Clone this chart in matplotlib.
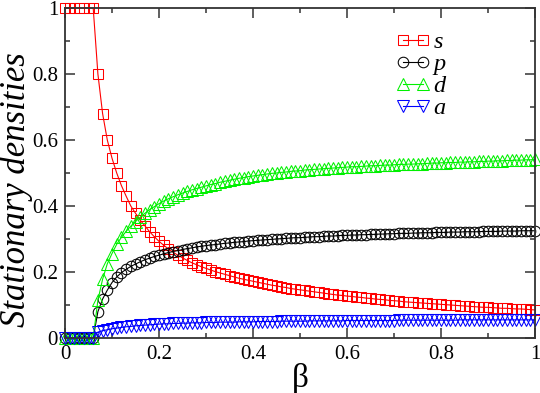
import numpy as np
import matplotlib
matplotlib.use('Agg')
import matplotlib.pyplot as plt

# beta grid (step 0.01)
beta = np.round(np.arange(101) * 0.01, 2)

s = [1.0, 1.0, 1.0, 1.0, 1.0, 1.0, 1.0,
     0.80, 0.68, 0.60,
     0.545, 0.50, 0.462, 0.43, 0.40, 0.378, 0.357, 0.34, 0.322, 0.307,
     0.293, 0.281, 0.27, 0.26, 0.251, 0.243, 0.235, 0.228, 0.222, 0.216,
     0.211, 0.206, 0.201, 0.197, 0.193, 0.189, 0.185, 0.181, 0.178, 0.175,
     0.172, 0.169, 0.166, 0.163, 0.160, 0.158, 0.155, 0.153, 0.150, 0.148,
     0.146, 0.144, 0.142, 0.140, 0.138, 0.136, 0.134, 0.132, 0.130, 0.129,
     0.127, 0.126, 0.124, 0.123, 0.121, 0.120, 0.118, 0.117, 0.116, 0.114,
     0.113, 0.112, 0.110, 0.109, 0.108, 0.107, 0.106, 0.105, 0.104, 0.103,
     0.102, 0.101, 0.100, 0.099, 0.098, 0.097, 0.096, 0.095, 0.094, 0.093,
     0.093, 0.092, 0.091, 0.090, 0.090, 0.089, 0.088, 0.088, 0.087, 0.086,
     0.085]

p = [0, 0, 0, 0, 0, 0, 0,
     0.08, 0.118, 0.145,
     0.168, 0.185, 0.198, 0.208, 0.217, 0.224, 0.231, 0.237, 0.242, 0.247,
     0.251, 0.255, 0.259, 0.262, 0.265, 0.268, 0.271, 0.273, 0.276, 0.278,
     0.280, 0.282, 0.283, 0.285, 0.287, 0.288, 0.290, 0.291, 0.292, 0.294,
     0.295, 0.296, 0.297, 0.298, 0.299, 0.300, 0.301, 0.302, 0.303, 0.304,
     0.304, 0.305, 0.306, 0.307, 0.307, 0.308, 0.309, 0.309, 0.310, 0.311,
     0.311, 0.312, 0.312, 0.313, 0.313, 0.314, 0.314, 0.315, 0.315, 0.316,
     0.316, 0.317, 0.317, 0.317, 0.318, 0.318, 0.319, 0.319, 0.319, 0.320,
     0.320, 0.320, 0.321, 0.321, 0.321, 0.322, 0.322, 0.322, 0.322, 0.323,
     0.323, 0.323, 0.323, 0.324, 0.324, 0.324, 0.324, 0.325, 0.325, 0.325,
     0.325]

d = [0, 0, 0, 0, 0, 0, 0,
     0.115, 0.178, 0.225,
     0.256, 0.284, 0.305, 0.323, 0.339, 0.353, 0.366, 0.378, 0.389, 0.398,
     0.407, 0.415, 0.422, 0.428, 0.434, 0.439, 0.444, 0.449, 0.453, 0.457,
     0.461, 0.465, 0.468, 0.472, 0.475, 0.478, 0.481, 0.484, 0.486, 0.489,
     0.491, 0.493, 0.495, 0.497, 0.499, 0.500, 0.502, 0.503, 0.505, 0.506,
     0.507, 0.509, 0.510, 0.511, 0.512, 0.513, 0.514, 0.515, 0.516, 0.517,
     0.518, 0.519, 0.519, 0.520, 0.521, 0.522, 0.522, 0.523, 0.524, 0.524,
     0.525, 0.526, 0.526, 0.527, 0.527, 0.528, 0.528, 0.529, 0.530, 0.530,
     0.531, 0.531, 0.532, 0.532, 0.533, 0.533, 0.534, 0.534, 0.535, 0.535,
     0.536, 0.536, 0.537, 0.537, 0.538, 0.538, 0.539, 0.539, 0.540, 0.540,
     0.541]

a = [0, 0, 0, 0, 0, 0, 0,
     0.018, 0.022, 0.025,
     0.028, 0.030, 0.032, 0.034, 0.035, 0.037, 0.038, 0.039, 0.040, 0.041,
     0.042, 0.043, 0.043, 0.044, 0.044, 0.045, 0.045, 0.046, 0.046, 0.046,
     0.047, 0.047, 0.047, 0.048, 0.048, 0.048, 0.048, 0.049, 0.049, 0.049,
     0.049, 0.050, 0.050, 0.050, 0.050, 0.050, 0.051, 0.051, 0.051, 0.051,
     0.051, 0.051, 0.052, 0.052, 0.052, 0.052, 0.052, 0.052, 0.052, 0.052,
     0.053, 0.053, 0.053, 0.053, 0.053, 0.053, 0.053, 0.053, 0.053, 0.053,
     0.053, 0.054, 0.054, 0.054, 0.054, 0.054, 0.054, 0.054, 0.054, 0.054,
     0.054, 0.054, 0.054, 0.054, 0.055, 0.055, 0.055, 0.055, 0.055, 0.055,
     0.055, 0.055, 0.055, 0.055, 0.055, 0.055, 0.055, 0.055, 0.055, 0.055,
     0.055]

labels = ['s', 'p', 'd', 'a']

plt.rcParams['font.family'] = ['Liberation Serif', 'DejaVu Serif']

fig = plt.figure(figsize=(5.4, 3.93), dpi=100)
ax = fig.add_axes([65 / 540, 55 / 393, 470 / 540, 330 / 393])

styles = [('#ff0000', 's', 6.8), ('#000000', 'o', 7.6),
          ('#00f000', '^', 8.2), ('#0000ff', 'v', 8.2)]
for ys, lab, (c, m, ms) in zip([s, p, d, a], labels, styles):
    ax.plot(beta, ys, color=c, lw=0.8, marker=m, ms=ms, mfc='none',
            mec=c, mew=0.75, label=lab, clip_on=False)

ax.set_xlim(0, 1)
ax.set_ylim(0, 1)
ax.set_xticks([0, 0.2, 0.4, 0.6, 0.8, 1.0])
ax.set_xticklabels(['0', '0.2', '0.4', '0.6', '0.8', '1'])
ax.set_yticks([0, 0.2, 0.4, 0.6, 0.8, 1.0])
ax.set_yticklabels(['0', '0.2', '0.4', '0.6', '0.8', '1'])
ax.set_xticks(np.arange(0.1, 1.0, 0.2), minor=True)
ax.set_yticks(np.arange(0.1, 1.0, 0.2), minor=True)
ax.tick_params(which='both', direction='in', top=True, right=True,
               color='#333333', width=1.1, labelsize=15)
ax.tick_params(which='major', length=7)
ax.tick_params(which='minor', length=3.5)
ax.tick_params(axis='y', pad=5)
ax.tick_params(axis='x', pad=5)
for sp in ax.spines.values():
    sp.set_color('#333333')
    sp.set_linewidth(1.3)

fig.text(16 / 540, 1 - 190 / 393, 'Stationary densities', rotation=90,
         ha='center', va='center', fontsize=25, style='italic')
fig.text(300 / 540, 1 - 378 / 393, 'β', ha='center', va='center', fontsize=24)

leg = ax.legend(loc='upper left', bbox_to_anchor=(0.704, 0.93), frameon=False,
                numpoints=2, handlelength=1.4, handletextpad=0.15,
                labelspacing=0.0, borderpad=0, borderaxespad=0,
                prop={'family': 'Liberation Serif', 'style': 'italic', 'size': 17.5})

fig.savefig('out.png', dpi=100)
